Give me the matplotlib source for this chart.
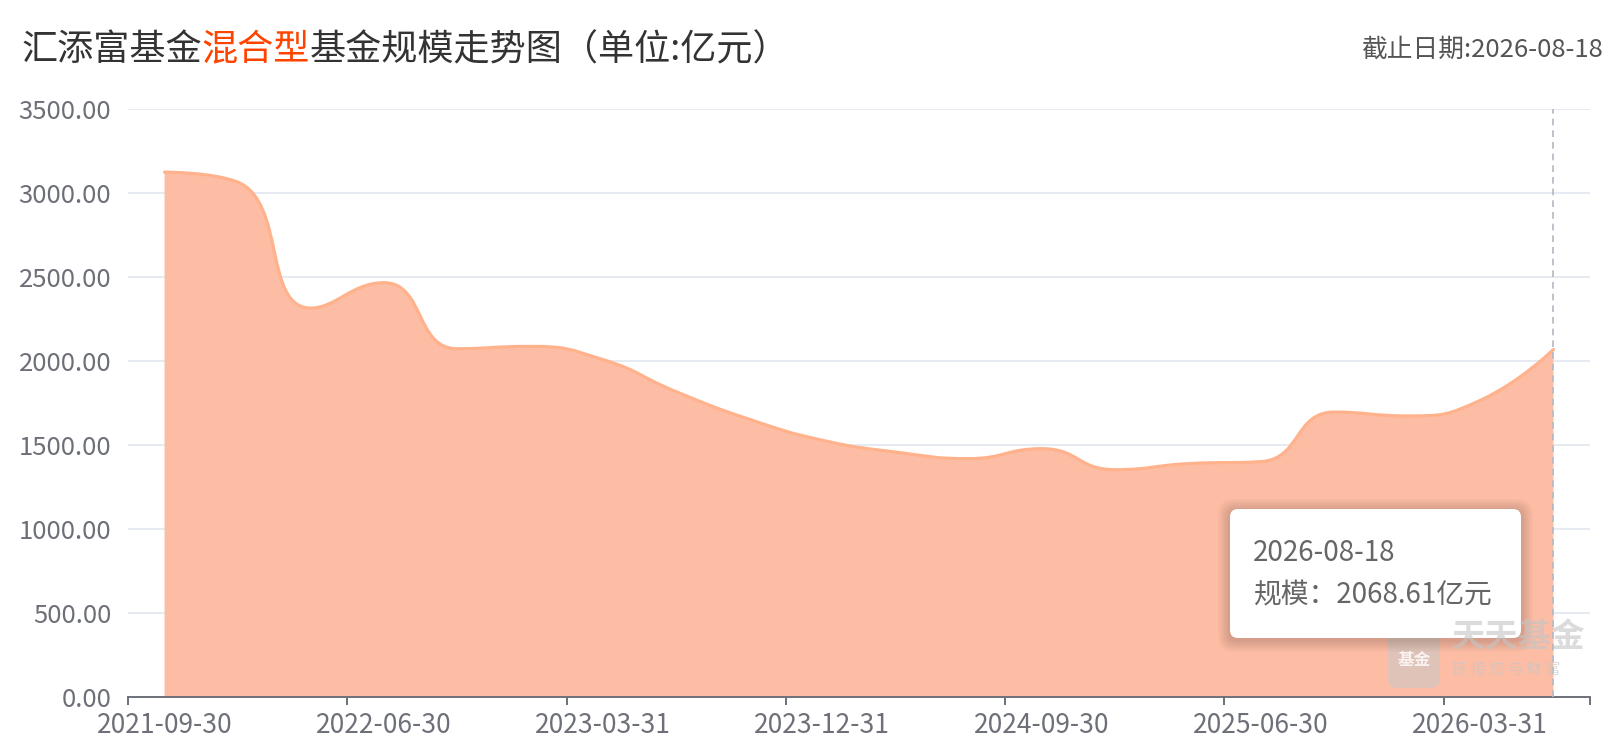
import math
import matplotlib
matplotlib.use('Agg')
import matplotlib.pyplot as plt
from matplotlib.path import Path
from matplotlib.patches import PathPatch, FancyBboxPatch
from matplotlib.transforms import IdentityTransform
from matplotlib.ticker import FixedLocator, NullFormatter
import numpy as np

plt.rcParams['font.family'] = ['Noto Sans CJK SC', 'DejaVu Sans']

# 报告期 (季度) 与规模 (亿元)
report_dates = ['2021-09-30', '2021-12-31', '2022-03-31', '2022-06-30', '2022-09-30',
                '2022-12-31', '2023-03-31', '2023-06-30', '2023-09-30', '2023-12-31',
                '2024-03-31', '2024-06-30', '2024-09-30', '2024-12-31', '2025-03-31',
                '2025-06-30', '2025-09-30', '2025-12-31', '2026-03-31', '2026-08-18']
scale_values = [3124, 3065, 2315, 2466, 2073,
                2087, 2008, 1817, 1653, 1528,
                1458, 1419, 1478, 1353, 1389,
                1401, 1696, 1673, 1766, 2068.61]
y_ticks = [0, 500, 1000, 1500, 2000, 2500, 3000, 3500]
title_parts = [('汇添富基金', '#333333'), ('混合型', '#FF4400'),
               ('基金规模走势图（单位:亿元）', '#333333')]

W, H = 1612, 750
fig = plt.figure(figsize=(W / 100, H / 100), dpi=100)
ax_l, ax_r, ax_t, ax_b = 128, 1590, 109, 697
ax = fig.add_axes([ax_l / W, (H - ax_b) / H, (ax_r - ax_l) / W, (ax_b - ax_t) / H])

n = len(scale_values)
xs = np.arange(n)
ax.set_xlim(-0.5, n - 0.5)
ax.set_ylim(y_ticks[0], y_ticks[-1])


# echarts 风格的平滑曲线 (smooth: true)
def smooth_path(px, py, smooth=0.5):
    verts = [(px[0], py[0])]
    codes = [Path.MOVETO]
    cp0 = (px[0], py[0])
    for i in range(1, len(px)):
        x, y = px[i], py[i]
        prev_x, prev_y = px[i - 1], py[i - 1]
        if i == len(px) - 1:
            cp1 = (x, y)
            next_cp0 = None
        else:
            nx, ny = px[i + 1], py[i + 1]
            vx, vy = nx - prev_x, ny - prev_y
            len_prev = math.hypot(x - prev_x, y - prev_y)
            len_next = math.hypot(nx - x, ny - y)
            ratio = len_next / (len_next + len_prev)
            ncx = x + vx * smooth * ratio
            ncy = y + vy * smooth * ratio
            ncx = max(min(ncx, max(nx, x)), min(nx, x))
            ncy = max(min(ncy, max(ny, y)), min(ny, y))
            vx, vy = ncx - x, ncy - y
            c1x = x - vx * len_prev / len_next
            c1y = y - vy * len_prev / len_next
            c1x = max(min(c1x, max(prev_x, x)), min(prev_x, x))
            c1y = max(min(c1y, max(prev_y, y)), min(prev_y, y))
            vx, vy = x - c1x, y - c1y
            next_cp0 = (x + vx * len_next / len_prev, y + vy * len_next / len_prev)
            cp1 = (c1x, c1y)
        verts += [cp0, cp1, (x, y)]
        codes += [Path.CURVE4] * 3
        cp0 = next_cp0
    return verts, codes


# 在像素比例空间里计算控制点, 再换回数据坐标
sx = (ax_r - ax_l) / n
sy = (ax_b - ax_t) / (y_ticks[-1] - y_ticks[0])
vals = np.array(scale_values, dtype=float)
v_px, c = smooth_path(xs * sx, vals * sy)
verts = [(vx / sx, vy / sy) for vx, vy in v_px]

area_verts = verts + [(xs[-1], 0), (xs[0], 0), (xs[0], vals[0])]
area_codes = c + [Path.LINETO, Path.LINETO, Path.CLOSEPOLY]
ax.add_patch(PathPatch(Path(area_verts, area_codes), facecolor='#FDBDA5',
                       edgecolor='none', zorder=2))
ax.add_patch(PathPatch(Path(verts, c), facecolor='none', edgecolor='#FFB28C',
                       lw=2.3, capstyle='round', joinstyle='round', zorder=3))

# 网格与坐标轴
ax.set_yticks(y_ticks)
ax.set_yticklabels(['%.2f' % v for v in y_ticks])
ax.yaxis.grid(True, color='#E0E6F1', lw=1.2, zorder=1)
ax.set_axisbelow(True)
for s in ['top', 'right', 'left']:
    ax.spines[s].set_visible(False)
ax.spines['bottom'].set_color('#6E7079')
ax.spines['bottom'].set_linewidth(1.4)
ax.spines['bottom'].set_zorder(4)
ax.tick_params(axis='y', length=0, pad=12, labelsize=18.5, labelcolor='#6E7079')

bounds = list(np.arange(-0.5, n - 0.5, 3)) + [n - 0.5]
ax.xaxis.set_major_locator(FixedLocator(bounds))
ax.xaxis.set_major_formatter(NullFormatter())
ax.xaxis.set_minor_locator(FixedLocator(xs[::3]))
ax.set_xticklabels([report_dates[i] for i in xs[::3]], minor=True)
ax.tick_params(axis='x', which='major', length=6, width=1.4, color='#6E7079', direction='out')
ax.tick_params(axis='x', which='minor', length=0, pad=11, labelsize=19, labelcolor='#6E7079')

# 指示线 (最新日期)
ax.axvline(xs[-1], color='#B3B7C2', lw=1.2, ls=(0, (4, 3)), zorder=5)

# 水印
ident = IdentityTransform()
fig.add_artist(FancyBboxPatch((1388, H - 688), 52, 70, boxstyle='round,pad=0,rounding_size=9',
                              transform=ident, facecolor='#C9C9C9', edgecolor='none', alpha=0.55))
fig.text(1414 / W, 1 - 660 / H, '基金', fontsize=12, color='white', ha='center', va='center',
         fontweight='bold', alpha=0.8)
fig.text(1451 / W, 1 - 638 / H, '天天基金', fontsize=24, color='#C4C4C4', ha='left',
         va='center', fontweight='bold', alpha=0.6)
fig.text(1452 / W, 1 - 669 / H, '链 接 您 与 财 富', fontsize=11, color='#C4C4C4', ha='left',
         va='center', alpha=0.6)

# 提示框
bx, by, bw, bh = 1230, H - 638, 291, 129
for k in range(8, 0, -1):
    fig.add_artist(FancyBboxPatch((bx - k * 1.5, by - k * 1.5 - 2), bw + k * 3, bh + k * 3,
                                  boxstyle='round,pad=0,rounding_size=%d' % (8 + k),
                                  transform=ident, facecolor='black', edgecolor='none',
                                  alpha=0.018))
fig.add_artist(FancyBboxPatch((bx, by), bw, bh, boxstyle='round,pad=0,rounding_size=8',
                              transform=ident, facecolor='white', edgecolor='none'))
fig.text(1253 / W, 1 - 553 / H, report_dates[-1], fontsize=20, color='#666666', va='center')
fig.text(1253 / W, 1 - 595 / H, '规模：%.2f亿元' % scale_values[-1], fontsize=20,
         color='#666666', va='center')

# 标题
prev = fig.text(21 / W, 1 - 50 / H, title_parts[0][0], fontsize=26, color=title_parts[0][1],
                va='center', ha='left')
for txt, col in title_parts[1:]:
    prev = fig.add_artist(plt.Annotation(txt, xy=(1, 0), xycoords=prev, fontsize=26, color=col,
                                         va='bottom', ha='left'))
fig.text(1603 / W, 1 - 50 / H, '截止日期:' + report_dates[-1], fontsize=18.5, color='#555555',
         ha='right', va='center')

fig.savefig('out.png', dpi=100)
